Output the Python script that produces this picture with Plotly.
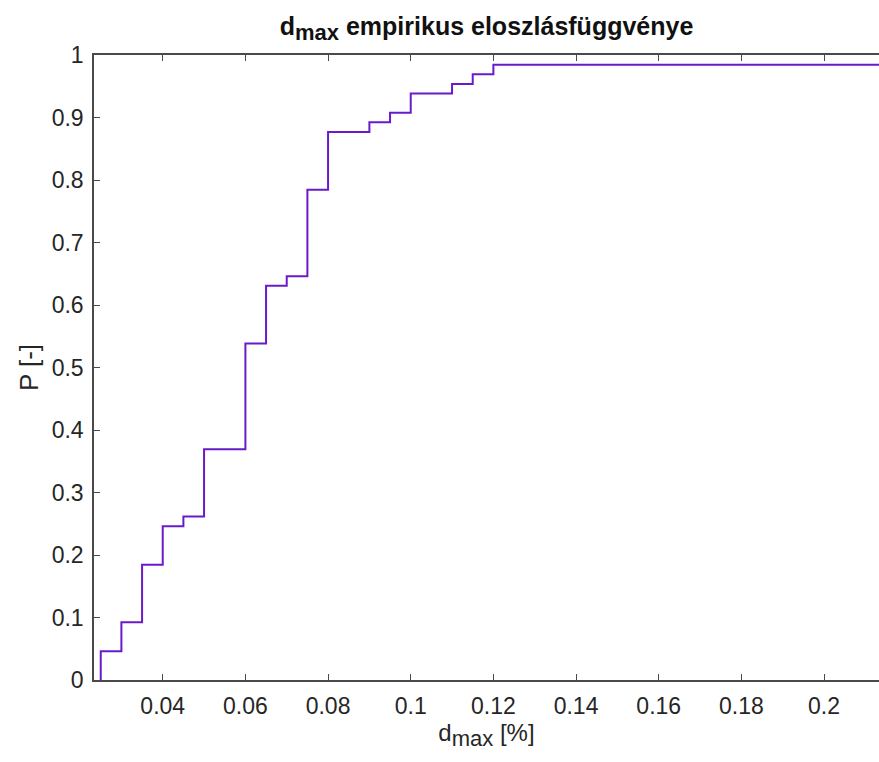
import plotly.graph_objects as go

# Empirical CDF step data (jump locations and cumulative probabilities)
d_max = [0.025, 0.03, 0.035, 0.04, 0.045, 0.05, 0.06, 0.065, 0.07, 0.075,
         0.08, 0.09, 0.095, 0.10, 0.11, 0.115, 0.12]
p_cum = [0.0462, 0.0923, 0.1846, 0.2462, 0.2615, 0.3692, 0.5385, 0.6308, 0.6462,
         0.7846, 0.8769, 0.8923, 0.9077, 0.9385, 0.9538, 0.9692, 0.9846]
x_end = 0.22  # stairs continue past the visible axis

x_ticks = [0.04, 0.06, 0.08, 0.1, 0.12, 0.14, 0.16, 0.18, 0.2]
x_tick_labels = ["0.04", "0.06", "0.08", "0.1", "0.12", "0.14", "0.16", "0.18", "0.2"]
y_ticks = [0, 0.1, 0.2, 0.3, 0.4, 0.5, 0.6, 0.7, 0.8, 0.9, 1]
y_tick_labels = ["0", "0.1", "0.2", "0.3", "0.4", "0.5", "0.6", "0.7", "0.8", "0.9", "1"]

xs = [d_max[0]] + d_max + [x_end]
ys = [0] + p_cum + [p_cum[-1]]

FONT = "Liberation Sans, Arial, sans-serif"
AXC = "#4a4a4a"
TXT = "#262626"

fig = go.Figure()
fig.add_trace(go.Scatter(
    x=xs, y=ys, mode="lines", line=dict(color="#6A1BC9", width=2, shape="hv"),
    hoverinfo="skip", showlegend=False))

fig.update_layout(
    width=879, height=762,
    margin=dict(l=94, r=0, t=55, b=82),
    paper_bgcolor="white", plot_bgcolor="white",
    font=dict(family=FONT, size=24, color=TXT),
    title=dict(text="<b>d<sub><span style='font-size:22px'>max</span></sub> empirikus eloszlásfüggvénye</b>",
               x=(94 + 879) / 2 / 879, xanchor="center",
               y=1 - 26 / 762, yanchor="middle", yref="container",
               font=dict(family=FONT, size=25, color="#111111")),
    xaxis=dict(range=[0.02337, 0.2133], tickvals=x_ticks, ticktext=x_tick_labels,
               ticks="inside", ticklen=6, tickcolor=AXC, tickwidth=1,
               showline=True, linecolor=AXC, linewidth=1.5, mirror="ticks",
               showgrid=False, zeroline=False, ticklabelstandoff=5,
               tickfont=dict(size=23, color=TXT),
               title=dict(text="d<sub><span style='font-size:22px'>max</span></sub> [%]",
                          font=dict(size=24, color=TXT), standoff=6)),
    yaxis=dict(range=[0, 1], tickvals=y_ticks, ticktext=y_tick_labels,
               ticks="inside", ticklen=6, tickcolor=AXC, tickwidth=1,
               showline=True, linecolor=AXC, linewidth=1.5, mirror=False,
               showgrid=False, zeroline=False, ticklabelstandoff=4,
               tickfont=dict(size=23, color=TXT),
               title=dict(text="P [-]", font=dict(size=26, color=TXT), standoff=6)),
)

fig.write_html("out.html")
